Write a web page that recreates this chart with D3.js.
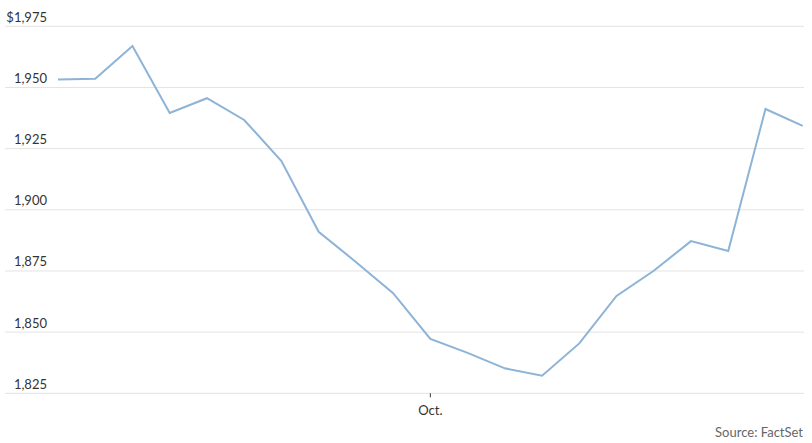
<!DOCTYPE html>
<html><head><meta charset="utf-8">
<script src="https://cdn.jsdelivr.net/npm/d3@7"></script>
<style>
html,body{margin:0;padding:0;background:#fff;}
svg text{font-family:Lato,"Open Sans",sans-serif;}
</style></head>
<body><svg id="c" width="812" height="443"></svg>
<script>
const dates = ["Sep 17","Sep 18","Sep 21","Sep 22","Sep 23","Sep 24","Sep 25","Sep 28","Sep 29","Sep 30",
  "Oct 1","Oct 2","Oct 5","Oct 6","Oct 7","Oct 8","Oct 9","Oct 12","Oct 13","Oct 14","Oct 15"];
const prices = [1953.3,1953.6,1966.9,1939.6,1945.6,1936.7,1919.9,1891.0,1878.7,1865.9,
  1847.2,1841.5,1835.2,1832.2,1845.4,1864.8,1875.1,1887.2,1883.2,1941.2,1934.3];
const yTicks = [1825,1850,1875,1900,1925,1950,1975];
const xTickDates = ["Oct 1"];
const xTickLabels = ["Oct."];
const sourceText = "Source: FactSet";

const svg = d3.select("#c");
const x = d3.scalePoint().domain(dates).range([58, 802.7]);
const y = d3.scaleLinear().domain([1825, 1975]).range([393.3, 26.3]);

const grid = svg.append("g");
grid.selectAll("line").data(yTicks).join("line")
  .attr("x1", 5).attr("x2", 804)
  .attr("y1", d => y(d)).attr("y2", d => y(d))
  .attr("stroke", "#e3e3e3").attr("stroke-width", 1);
grid.selectAll("text").data(yTicks).join("text")
  .attr("x", 47).attr("y", d => y(d) - 4.5)
  .attr("text-anchor", "end")
  .attr("font-size", 13).attr("fill", "#333")
  .text((d, i) => (i === yTicks.length - 1 ? "$" : "") + d3.format(",")(d));

const xa = svg.append("g");
xa.selectAll("line").data(xTickDates).join("line")
  .attr("x1", d => x(d)).attr("x2", d => x(d))
  .attr("y1", y(1825)).attr("y2", y(1825) + 4)
  .attr("stroke", "#333").attr("stroke-width", 1);
xa.selectAll("text").data(xTickDates).join("text")
  .attr("x", d => x(d)).attr("y", 415)
  .attr("text-anchor", "middle").attr("font-size", 13).attr("fill", "#333")
  .text((d, i) => xTickLabels[i]);

const line = d3.line().x((d, i) => x(dates[i])).y(d => y(d));
svg.append("path").datum(prices)
  .attr("d", line).attr("fill", "none")
  .attr("stroke", "#8db3d6").attr("stroke-width", 2)
  .attr("stroke-linejoin", "miter");

svg.append("text").attr("x", 803).attr("y", 437)
  .attr("text-anchor", "end").attr("font-size", 13).attr("fill", "#666")
  .text(sourceText);
</script></body></html>
